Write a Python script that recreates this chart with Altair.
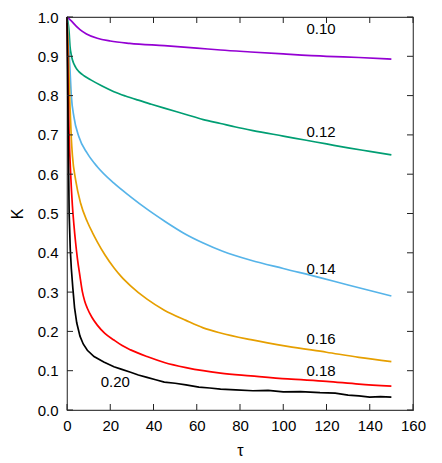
import altair as alt
import pandas as pd

# ---- data ----
series_names = ["0.10", "0.12", "0.14", "0.16", "0.18", "0.20"]
series_colors = ["#9400d3", "#009e73", "#56b4e9", "#e69f00", "#ff0000", "#000000"]

x_010 = [0, 1, 2, 4, 6, 9, 14, 20, 29, 45, 60, 71, 85, 100, 120, 135, 150]
y_010 = [1.0, 0.995, 0.99, 0.978, 0.968, 0.957, 0.946, 0.939, 0.933, 0.927, 0.921, 0.916,
         0.911, 0.906, 0.900, 0.897, 0.893]

x_012 = [0, 0.5, 0.9, 1.4, 2, 2.5, 4, 5.5, 8, 11, 16, 21.7, 27, 32.5, 39, 45, 55, 63, 71,
         78, 86, 100, 110, 120, 130, 140, 150]
y_012 = [1.0, 0.985, 0.967, 0.925, 0.903, 0.891, 0.872, 0.861, 0.850, 0.840, 0.825, 0.810,
         0.799, 0.789, 0.778, 0.768, 0.752, 0.739, 0.729, 0.720, 0.711, 0.697, 0.687, 0.677,
         0.667, 0.658, 0.649]

x_014 = [0, 0.5, 1, 1.4, 2, 3.2, 5.5, 9.4, 14, 21.7, 29.3, 37, 45, 54, 63, 72, 85, 100,
         117, 130, 140, 150]
y_014 = [1.0, 0.96, 0.91, 0.865, 0.80, 0.746, 0.695, 0.653, 0.619, 0.577, 0.543, 0.511,
         0.481, 0.450, 0.425, 0.404, 0.381, 0.360, 0.337, 0.318, 0.304, 0.290]

x_016 = [0, 0.5, 1, 1.4, 2, 2.5, 4, 6.3, 9.4, 11.7, 14, 17.5, 21.7, 25, 29.4, 37, 45, 55,
         63, 71, 85, 102, 120, 135, 150]
y_016 = [1.0, 0.93, 0.84, 0.77, 0.69, 0.648, 0.585, 0.526, 0.479, 0.452, 0.428, 0.395,
         0.362, 0.340, 0.316, 0.282, 0.254, 0.228, 0.209, 0.196, 0.179, 0.162, 0.147, 0.134,
         0.123]

x_018 = [0, 0.3, 0.6, 1, 1.7, 2.5, 3.2, 4, 4.8, 6, 7.1, 8.2, 9.4, 11.5, 14, 17.5, 21.7,
         25.5, 29.4, 37, 45, 55, 63, 71, 85, 102, 120, 135, 150]
y_018 = [1.0, 0.9, 0.8, 0.7, 0.6, 0.52, 0.471, 0.425, 0.386, 0.34, 0.301, 0.277, 0.259,
         0.236, 0.216, 0.195, 0.178, 0.164, 0.153, 0.136, 0.121, 0.108, 0.100, 0.094, 0.087,
         0.079, 0.073, 0.066, 0.061]

x_020 = [0, 0.2, 0.4, 0.7, 1.0, 1.5, 2, 2.7, 3.5, 4.5, 6, 7.5, 9.4, 12.5, 17, 21.7, 25,
         29.4, 33, 37, 41, 45, 50, 55, 61, 66, 71, 78, 86, 93, 100, 108, 117, 124, 130,
         135, 140, 145, 150]
y_020 = [1.0, 0.9, 0.78, 0.63, 0.5, 0.41, 0.36, 0.31, 0.26, 0.222, 0.188, 0.168, 0.152,
         0.136, 0.122, 0.110, 0.104, 0.096, 0.089, 0.083, 0.077, 0.071, 0.068, 0.064, 0.058,
         0.056, 0.053, 0.051, 0.049, 0.050, 0.046, 0.047, 0.044, 0.043, 0.038, 0.036, 0.033,
         0.034, 0.033]

label_text = ["0.10", "0.12", "0.14", "0.16", "0.18", "0.20"]
label_x = [117.5, 117.5, 117.5, 117.5, 117.5, 22.3]
label_y = [0.970, 0.708, 0.358, 0.180, 0.099, 0.070]

x_ticks = [0, 20, 40, 60, 80, 100, 120, 140, 160]
y_ticks = [0.0, 0.1, 0.2, 0.3, 0.4, 0.5, 0.6, 0.7, 0.8, 0.9, 1.0]

# ---- build tables ----
all_x = [x_010, x_012, x_014, x_016, x_018, x_020]
all_y = [y_010, y_012, y_014, y_016, y_018, y_020]
rows = []
for name, xs, ys in zip(series_names, all_x, all_y):
    for i, (xv, yv) in enumerate(zip(xs, ys)):
        rows.append({"series": name, "tau": xv, "K": yv, "order": i})
lines_df = pd.DataFrame(rows)
labels_df = pd.DataFrame({"text": label_text, "tau": label_x, "K": label_y})
xt_df = pd.DataFrame({"tau": x_ticks})
yt_df = pd.DataFrame({"K": y_ticks})

FONT = "Liberation Sans"
W, H = 346, 393
TICK = 6
TICK_COLOR = "#222222"

xscale = alt.Scale(domain=[0, 160], nice=False, zero=False)
yscale = alt.Scale(domain=[0, 1], nice=False, zero=False)
cscale = alt.Scale(domain=series_names, range=series_colors)

x_axis = alt.Axis(orient="bottom", values=x_ticks, title="τ", format="d",
                  ticks=False, domain=False, grid=False,
                  labelFlush=False, labelOverlap=False,
                  labelPadding=8, titlePadding=9)
y_axis = alt.Axis(orient="left", values=y_ticks, title="K", format=".1f",
                  ticks=False, domain=False, grid=False,
                  labelFlush=False, labelOverlap=False,
                  labelPadding=9, titlePadding=12)

X = alt.X("tau:Q", scale=xscale, axis=x_axis)
Y = alt.Y("K:Q", scale=yscale, axis=y_axis)

smooth = alt.Chart(lines_df).transform_filter(
    alt.datum.series != "0.20"
).mark_line(strokeWidth=1.7, interpolate="monotone").encode(
    x=X, y=Y,
    color=alt.Color("series:N", scale=cscale, legend=None),
    order="order:Q",
)

noisy = alt.Chart(lines_df).transform_filter(
    alt.datum.series == "0.20"
).mark_line(strokeWidth=1.7, interpolate="linear").encode(
    x=X, y=Y,
    color=alt.Color("series:N", scale=cscale, legend=None),
    order="order:Q",
)

texts = alt.Chart(labels_df).mark_text(font=FONT, fontSize=15, color="black").encode(
    x=X, y=Y, text="text:N",
)

# inward tick marks on all four sides (mirrored, gnuplot style)
tick_bottom = alt.Chart(xt_df).mark_rule(color=TICK_COLOR, strokeWidth=1).encode(
    x=X, y=alt.value(H), y2=alt.value(H - TICK))
tick_top = alt.Chart(xt_df).mark_rule(color=TICK_COLOR, strokeWidth=1).encode(
    x=X, y=alt.value(0), y2=alt.value(TICK))
tick_left = alt.Chart(yt_df).mark_rule(color=TICK_COLOR, strokeWidth=1).encode(
    y=Y, x=alt.value(0), x2=alt.value(TICK))
tick_right = alt.Chart(yt_df).mark_rule(color=TICK_COLOR, strokeWidth=1).encode(
    y=Y, x=alt.value(W), x2=alt.value(W - TICK))

chart = alt.layer(
    smooth, noisy, texts, tick_bottom, tick_top, tick_left, tick_right
).properties(
    width=W,
    height=H,
    autosize=alt.AutoSizeParams(type="none"),
    padding={"left": 59, "top": 9, "right": 21, "bottom": 53},
).configure_view(
    stroke="#444444", strokeWidth=1.2
).configure_axis(
    labelFont=FONT, titleFont=FONT, labelFontSize=15, titleFontSize=16,
    titleFontWeight="normal", labelColor="black", titleColor="black",
)

chart.save("out.html", embed_options={"renderer": "svg", "actions": False})
